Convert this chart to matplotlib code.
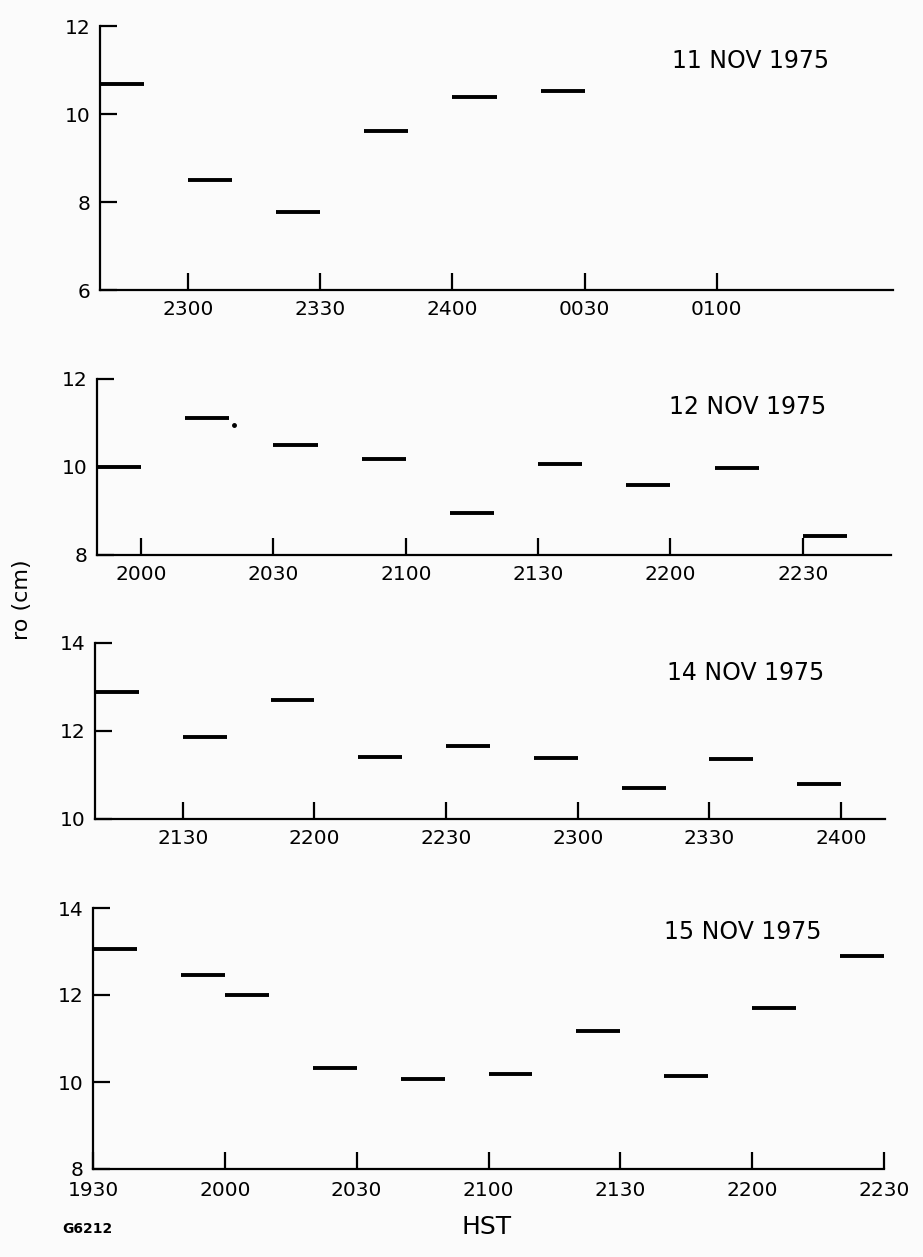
import matplotlib
matplotlib.use("Agg")
import matplotlib.pyplot as plt

# ---------------- data ----------------
# segment start times (HST, each segment spans 10 minutes) and ro values (cm)
p1_start = ["2240", "2300", "2320", "2340", "2400", "0020"]
p1_ro = [10.68, 8.50, 7.77, 9.61, 10.38, 10.52]
p1_ticks = ["2300", "2330", "2400", "0030", "0100"]
p1_yticks = [6, 8, 10, 12]

p2_start = ["1950", "2010", "2030", "2050", "2110", "2130", "2150", "2210", "2230"]
p2_ro = [10.00, 11.11, 10.49, 10.18, 8.95, 10.07, 9.60, 9.97, 8.43]
p2_ticks = ["2000", "2030", "2100", "2130", "2200", "2230"]
p2_yticks = [8, 10, 12]
p2_dot_time = ["2021"]
p2_dot_ro = [10.95]

p3_start = ["2110", "2130", "2150", "2210", "2230", "2250", "2310", "2330", "2350"]
p3_ro = [12.89, 11.87, 12.71, 11.41, 11.65, 11.39, 10.70, 11.36, 10.80]
p3_ticks = ["2130", "2200", "2230", "2300", "2330", "2400"]
p3_yticks = [10, 12, 14]

p4_start = ["1930", "1950", "2000", "2020", "2040", "2100", "2120", "2140", "2200", "2220"]
p4_ro = [13.05, 12.47, 12.00, 10.33, 10.07, 10.19, 11.17, 10.14, 11.69, 12.90]
p4_ticks = ["1930", "2000", "2030", "2100", "2130", "2200", "2230"]
p4_yticks = [8, 10, 12, 14]

titles = ["11 NOV 1975", "12 NOV 1975", "14 NOV 1975", "15 NOV 1975"]
seg_len = 10  # minutes


def minutes(s):
    h, m = int(s[:2]), int(s[2:])
    if h < 12:
        h += 24
    return h * 60 + m


W, H = 923, 1257
fig = plt.figure(figsize=(W / 100, H / 100), dpi=100)
fig.patch.set_facecolor("#fbfbfb")

FONT = "DejaVu Sans"
plt.rcParams["font.family"] = FONT

# axes boxes in pixels: left, right, top, bottom ; x-limits (HST)
boxes = [
    (100, 893, 26, 290, "2240", "0140", (6, 12)),
    (97, 891, 379, 555, "1950", "2250", (8, 12)),
    (95, 885, 643, 819, "2110", "2410", (10, 14)),
    (93, 884, 908, 1169, "1930", "2230", (8, 14)),
]
panels = [
    (p1_start, p1_ro, p1_ticks, p1_yticks),
    (p2_start, p2_ro, p2_ticks, p2_yticks),
    (p3_start, p3_ro, p3_ticks, p3_yticks),
    (p4_start, p4_ro, p4_ticks, p4_yticks),
]
title_pos = [(751, 61), (748, 407), (746, 673), (743, 932)]
xpads = [7, 7, 7, 9]

axes = []
for (l, r, t, b, x0, x1, ylim), (st, ro, tk, ytk), xp in zip(boxes, panels, xpads):
    ax = fig.add_axes([l / W, 1 - b / H, (r - l) / W, (b - t) / H])
    ax.set_facecolor("none")
    xs = [minutes(s) for s in st]
    ax.hlines(ro, xs, [x + seg_len for x in xs], colors="black", linewidth=2.8,
              capstyle="butt")
    ax.set_xlim(minutes(x0), minutes(x1))
    ax.set_ylim(*ylim)
    ax.set_xticks([minutes(s) for s in tk])
    ax.set_xticklabels(tk)
    ax.set_yticks(ytk)
    ax.set_yticklabels([str(v) for v in ytk])
    for sp in ("top", "right"):
        ax.spines[sp].set_visible(False)
    for sp in ("left", "bottom"):
        ax.spines[sp].set_linewidth(1.6)
    ax.tick_params(axis="x", direction="in", length=12, width=1.6, pad=xp,
                   labelsize=14.5)
    ax.tick_params(axis="y", direction="in", length=12, width=1.6, pad=7,
                   labelsize=14.5)
    axes.append(ax)

axes[1].plot([minutes(s) for s in p2_dot_time], p2_dot_ro, "o", color="black",
             markersize=2.5)

for txt, (x, y) in zip(titles, title_pos):
    fig.text(x / W, 1 - y / H, txt, ha="center", va="center", fontsize=17)

fig.text(22 / W, 1 - 600 / H, "ro (cm)", rotation=90, ha="center", va="center",
         fontsize=16)
fig.text(487 / W, 1 - 1227 / H, "HST", ha="center", va="center", fontsize=18)
fig.text(87 / W, 1 - 1229 / H, "G6212", ha="center", va="center", fontsize=10,
         fontweight="bold")

fig.savefig("out.png", dpi=100, facecolor=fig.get_facecolor())
